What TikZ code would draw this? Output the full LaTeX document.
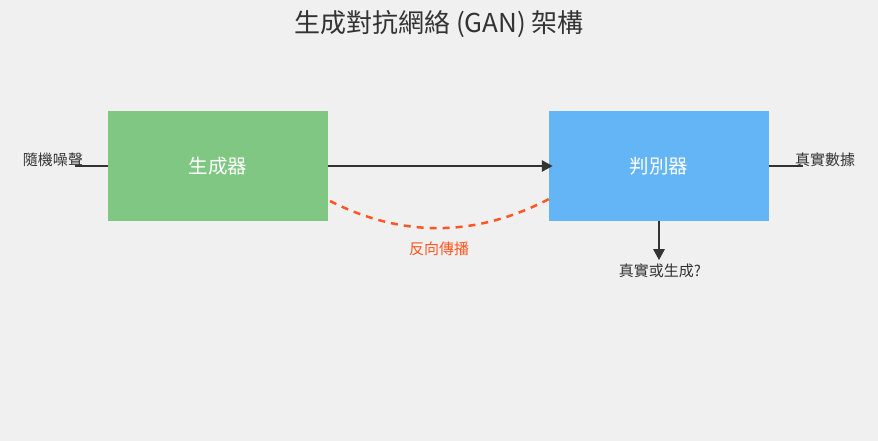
\documentclass[tikz,border=0pt]{standalone}
\usepackage{fontspec}
\setmainfont{Noto Sans CJK TC}
\usetikzlibrary{arrows.meta}
\definecolor{bg}{HTML}{F0F0F0}
\definecolor{txt}{HTML}{333333}
\definecolor{gen}{HTML}{81C784}
\definecolor{dis}{HTML}{64B5F6}
\definecolor{back}{HTML}{FF5722}
\begin{document}
\begin{tikzpicture}[x=1pt,y=-1pt]
\fill[bg] (0,0) rectangle (878,441);
\useasboundingbox (0,0) rectangle (878,441);
\node[txt,font=\fontsize{26}{30}\selectfont] (title) at (439,24) {生成對抗網絡 (GAN) 架構};
\node[fill=gen,minimum width=220pt,minimum height=110pt,inner sep=0pt,text=white,font=\fontsize{19.5}{23}\selectfont] (G) at (218,166) {生成器};
\node[fill=dis,minimum width=220pt,minimum height=110pt,inner sep=0pt,text=white,font=\fontsize{19.5}{23}\selectfont] (D) at (659,166) {判別器};
\node[txt,font=\fontsize{15}{18}\selectfont] (noise) at (53,160) {隨機噪聲};
\node[txt,font=\fontsize{15}{18}\selectfont] (real) at (825,160) {真實數據};
\node[txt,font=\fontsize{15}{18}\selectfont] (out) at (660,271) {真實或生成?};
\node[back,font=\fontsize{15}{18}\selectfont] (bp) at (439,249) {反向傳播};
\coordinate (N) at (75,166);
\coordinate (R) at (803,166);
\draw[txt,line width=2.5pt] (N) -- (G.west);
\draw[txt,line width=2.5pt] (D.east) -- (R);
\draw[txt,line width=2.5pt,-{Triangle[length=11pt,width=11pt]}] (G.east) -- ([xshift=4pt]D.west);
\draw[txt,line width=2.5pt,-{Triangle[length=11pt,width=11pt]}] (D.south) -- ++(0,39) coordinate (O);
\draw[back,line width=2.5pt,dash pattern=on 7pt off 6pt] (330,201) .. controls (403,238) and (476,237) .. (549,199);
\end{tikzpicture}
\end{document}
